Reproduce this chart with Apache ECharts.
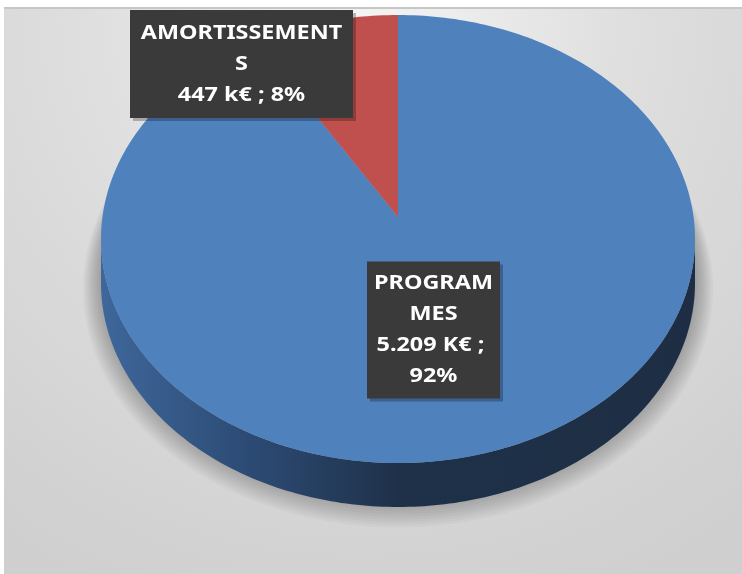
<!DOCTYPE html>
<html>
<head>
<meta charset="utf-8">
<script src="https://cdn.jsdelivr.net/npm/echarts@6.0.0/dist/echarts.min.js"></script>
<style>
  html, body { margin: 0; padding: 0; background: #fff; }
  #main { width: 742px; height: 574px; }
</style>
</head>
<body>
<div id="main"></div>
<script>
// données du camembert (ordre Excel : 1er point bleu, 2e rouge)
var categories = ['PROGRAMMES', 'AMORTISSEMENTS'];
var values = [5209, 447];
var units = ['K€', 'k€'];
var colors = ['#4f81bd', '#c0504d'];

// mise en page (pixels) ; apexY = centre vu en perspective
var pie = { cx: 398, cy: 239, rx: 297, ry: 224, depth: 44, apexY: 217 };
var labelBoxes = [
    { x: 433.5, y: 330, w: 133, h: 137, textW: 106 },
    { x: 241.5, y: 64, w: 223, h: 108, textW: 174 }
];
var textScaleX = 1.17;

var total = values.reduce(function (a, b) { return a + b; }, 0);

function fmt(v) {
    return String(v).replace(/\B(?=(\d{3})+(?!\d))/g, '.');
}

// point sur l'ellipse, angle en degrés dans le sens horaire depuis midi
function pt(deg, dy, grow) {
    var r = deg * Math.PI / 180;
    var g = grow || 0;
    return [pie.cx + (pie.rx + g) * Math.sin(r), pie.cy - (pie.ry + g * 0.8) * Math.cos(r) + (dy || 0)];
}

function arc(a0, a1, dy, grow) {
    var pts = [];
    var n = Math.max(2, Math.ceil(Math.abs(a1 - a0)));
    for (var i = 0; i <= n; i++) {
        pts.push(pt(a0 + (a1 - a0) * i / n, dy, grow));
    }
    return pts;
}

var myChart = echarts.init(document.getElementById('main'));

var option = {
    animation: false,
    graphic: [
        {
            type: 'rect',
            z: -10,
            shape: { x: 4, y: 9, width: 738, height: 565 },
            style: {
                fill: {
                    type: 'radial', x: 0.48, y: 0.02, r: 1.1,
                    colorStops: [
                        { offset: 0, color: '#f4f4f4' },
                        { offset: 0.45, color: '#dedede' },
                        { offset: 1, color: '#cfcfcf' }
                    ]
                }
            }
        },
        {
            type: 'rect',
            z: -9,
            shape: { x: 4, y: 7, width: 738, height: 2 },
            style: { fill: '#c6c6c6' }
        }
    ],
    series: [
        {
            type: 'custom',
            coordinateSystem: 'none',
            data: values.map(function (v, i) { return { name: categories[i], value: v }; }),
            renderItem: function (params, api) {
                var idx = params.dataIndex;
                var before = 0;
                for (var k = 0; k < idx; k++) before += values[k];
                var a0 = before / total * 360;
                var a1 = (before + api.value(0)) / total * 360;
                var children = [];

                // face latérale (partie avant : 90° à 270°)
                var s0 = Math.max(a0, 90), s1 = Math.min(a1, 270);
                if (s1 > s0) {
                    // ombre portée, en couches superposées
                    for (var j = 1; j <= 10; j++) {
                        children.push({
                            type: 'polygon',
                            z2: 0,
                            silent: true,
                            shape: { points: arc(0, 360, pie.depth - 6 + j * 1.2, j * 1.8) },
                            style: { fill: 'rgba(0,0,0,0.028)' }
                        });
                    }
                    children.push({
                        type: 'polygon',
                        z2: 1,
                        shape: { points: arc(s0, s1, 0).concat(arc(s1, s0, pie.depth)) },
                        style: {
                            fill: {
                                type: 'linear', x: 0, y: 0, x2: 1, y2: 0,
                                colorStops: [
                                    { offset: 0, color: '#3f679b' },
                                    { offset: 0.25, color: '#2c4b74' },
                                    { offset: 0.5, color: '#1f3149' },
                                    { offset: 1, color: '#1d2e44' }
                                ]
                            }
                        }
                    });
                }

                // dessus
                children.push({
                    type: 'polygon',
                    z2: 2,
                    shape: { points: [[pie.cx, pie.apexY]].concat(arc(a0, a1, 0)) },
                    style: { fill: colors[idx] }
                });

                // étiquette
                var b = labelBoxes[idx];
                var pct = Math.round(api.value(0) / total * 100);
                children.push({
                    type: 'rect',
                    z2: 9,
                    silent: true,
                    shape: { x: b.x - b.w / 2 + 3, y: b.y - b.h / 2 + 3, width: b.w, height: b.h },
                    style: { fill: 'rgba(0,0,0,0.25)' }
                });
                children.push({
                    type: 'rect',
                    z2: 10,
                    shape: { x: b.x - b.w / 2, y: b.y - b.h / 2, width: b.w, height: b.h },
                    style: { fill: '#3a3a3a' }
                });
                children.push({
                    type: 'text',
                    z2: 11,
                    x: b.x,
                    y: b.y,
                    scaleX: textScaleX,
                    style: {
                        text: categories[idx] + '\n' + fmt(api.value(0)) + ' ' + units[idx] + ' ; ' + pct + '%',
                        x: 0,
                        y: 0,
                        width: b.textW,
                        overflow: 'break',
                        align: 'center',
                        verticalAlign: 'middle',
                        fill: '#ffffff',
                        font: 'bold 20px "Noto Sans"',
                        lineHeight: 31
                    }
                });

                return { type: 'group', children: children };
            }
        }
    ]
};

myChart.setOption(option);
</script>
</body>
</html>
